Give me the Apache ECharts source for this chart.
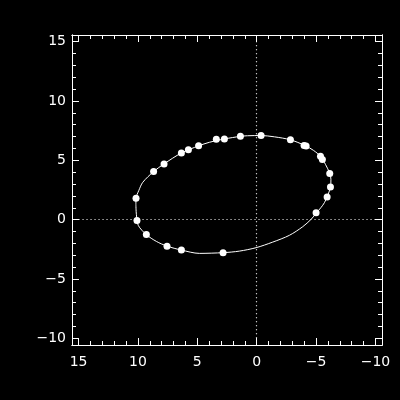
<!DOCTYPE html>
<html>
<head>
<meta charset="utf-8">
<script src="https://cdn.jsdelivr.net/npm/echarts@6/dist/echarts.min.js"></script>
<style>
html,body{margin:0;padding:0;background:#000;}
#chart{width:400px;height:400px;}
</style>
</head>
<body>
<div id="chart"></div>
<script>
// Measured points (x, y)
const pointsX = [10.16, 10.08, 9.29, 7.55, 6.34, 2.83, -5.00, -5.93, -6.21, -6.15, -5.53, -5.37, -4.16, -3.99, -2.84, -0.37, 1.37, 2.72, 3.40, 4.89, 5.75, 6.34, 7.80, 8.68];
const pointsY = [1.80, -0.08, -1.26, -2.23, -2.56, -2.78, 0.59, 1.91, 2.75, 3.90, 5.08, 5.34, 6.21, 6.26, 6.73, 7.09, 7.02, 6.80, 6.77, 6.22, 5.89, 5.62, 4.70, 4.05];

// Fitted ellipse curve
const curveX = [10.17, 10.13, 9.97, 9.29, 8.45, 7.55, 6.34, 4.83, 2.83, 1.46, 0.05, -1.35, -2.75, -3.88, -4.58, -5.05, -5.70, -6.21, -6.25, -6.15, -5.79, -5.37, -4.78, -4.08, -2.84, -1.49, -0.37, 0.78, 1.37, 2.72, 3.98, 4.89, 6.34, 7.80, 8.68, 9.59, 9.92, 10.16, 10.17];
const curveY = [1.29, 0.45, -0.48, -1.26, -1.83, -2.23, -2.56, -2.84, -2.78, -2.65, -2.36, -1.89, -1.32, -0.59, 0.03, 0.59, 1.43, 2.75, 3.40, 3.90, 4.66, 5.34, 5.84, 6.24, 6.73, 6.98, 7.09, 7.07, 7.02, 6.80, 6.52, 6.22, 5.62, 4.70, 4.05, 3.15, 2.47, 1.80, 1.29];

const majorTicks = [-10, -5, 0, 5, 10, 15];
const minorTicks = [-10, -9, -8, -7, -6, -5, -4, -3, -2, -1, 0, 1, 2, 3, 4, 5, 6, 7, 8, 9, 10, 11, 12, 13, 14, 15];
const xRange = [-10.55, 15.55];
const yRange = [-10.56, 15.56];

const WHITE = '#ffffff';
const FONT = 'DejaVu Sans';

function fmt(v) { return String(v).replace('-', '\u2212'); }

function makeAxis(kind, position, ticks, len, showLabels, range, inverse) {
  return {
    type: 'value',
    position: position,
    min: range[0],
    max: range[1],
    inverse: inverse,
    axisLine: { show: true, onZero: false, lineStyle: { color: WHITE, width: 1 } },
    axisTick: { show: true, inside: true, length: len, customValues: ticks, lineStyle: { color: WHITE, width: 1 } },
    axisLabel: showLabels ? {
      show: true, customValues: ticks, color: WHITE, fontSize: 14, fontFamily: FONT,
      margin: kind === 'x' ? 10 : 6, formatter: fmt
    } : { show: false },
    splitLine: { show: false },
    minorTick: { show: false }
  };
}

const chart = echarts.init(document.getElementById('chart'), null, { renderer: 'canvas' });
chart.setOption({
  backgroundColor: '#000000',
  animation: false,
  grid: { left: 72, top: 35, width: 310, height: 310 },
  xAxis: [
    makeAxis('x', 'bottom', majorTicks, 7, true, xRange, true),
    makeAxis('x', 'bottom', minorTicks, 4, false, xRange, true),
    makeAxis('x', 'top', majorTicks, 7, false, xRange, true),
    makeAxis('x', 'top', minorTicks, 4, false, xRange, true)
  ],
  yAxis: [
    makeAxis('y', 'left', majorTicks, 7, true, yRange, false),
    makeAxis('y', 'left', minorTicks, 4, false, yRange, false),
    makeAxis('y', 'right', majorTicks, 7, false, yRange, false),
    makeAxis('y', 'right', minorTicks, 4, false, yRange, false)
  ],
  series: [
    {
      type: 'line',
      xAxisIndex: 0, yAxisIndex: 0,
      data: curveX.map((x, i) => [x, curveY[i]]),
      smooth: 0.3,
      showSymbol: false,
      lineStyle: { color: WHITE, width: 1 },
      markLine: {
        silent: true,
        symbol: ['none', 'none'],
        label: { show: false },
        lineStyle: { color: WHITE, width: 1.2, type: [1, 3], opacity: 1 },
        data: [
          [{ coord: [0, -10] }, { coord: [0, 15] }],
          [{ coord: [15, 0] }, { coord: [-10, 0] }]
        ]
      }
    },
    {
      type: 'scatter',
      xAxisIndex: 0, yAxisIndex: 0,
      data: pointsX.map((x, i) => [x, pointsY[i]]),
      symbol: 'circle',
      symbolSize: 7,
      itemStyle: { color: WHITE, opacity: 1 }
    }
  ]
});
</script>
</body>
</html>
